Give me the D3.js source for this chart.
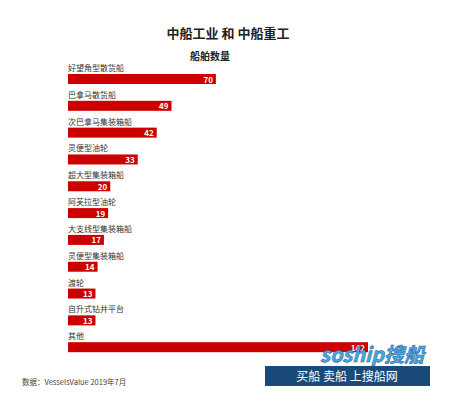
<!DOCTYPE html>
<html><head><meta charset="utf-8">
<script src="https://cdn.jsdelivr.net/npm/d3@7"></script>
<style>body{margin:0;background:#fff}text{font-family:"Noto Sans CJK SC","Noto Sans",sans-serif}</style>
</head><body><div id="chart"></div>
<script>
const categories = ['好望角型散货船','巴拿马散货船','次巴拿马集装箱船','灵便型油轮','超大型集装箱船','阿芙拉型油轮','大支线型集装箱船','灵便型集装箱船','渡轮','自升式钻井平台','其他']
const values = [70, 49, 42, 33, 20, 19, 17, 14, 13, 13, 142]

const width = 450, height = 400
const svg = d3.select('#chart').append('svg')
  .attr('width', width).attr('height', height)

const x = d3.scaleLinear().domain([0, 142]).range([68, 368])
const y = d3.scaleBand().domain(categories).range([62, 357]).paddingInner(0)

svg.append('text').attr('x', 228).attr('y', 38).attr('text-anchor', 'middle')
  .style('font-size', '13px').style('font-weight', 'bold').attr('fill', '#222')
  .text('中船工业 和 中船重工')
svg.append('text').attr('x', 210).attr('y', 60).attr('text-anchor', 'middle')
  .style('font-size', '10px').style('font-weight', 'bold').attr('fill', '#222')
  .text('船舶数量')

let row = svg.selectAll('g.row').data(categories).enter().append('g')
  .attr('transform', d => `translate(0,${y(d)})`)

row.append('text').attr('x', 68).attr('y', 9)
  .style('font-size', '8px').attr('fill', '#333').text(d => d)
row.append('rect').attr('x', 68).attr('y', 12)
  .attr('width', (d, i) => x(values[i]) - 68).attr('height', 10)
  .attr('fill', '#cc0000')
row.append('text').attr('x', (d, i) => x(values[i]) - 3).attr('y', 20.5)
  .attr('text-anchor', 'end').style('font-size', '8px').style('font-weight', 'bold')
  .attr('fill', '#fff').text((d, i) => values[i])

svg.append('text').attr('x', 22).attr('y', 385)
  .style('font-size', '7.5px').attr('fill', '#444').text('数据：VesselsValue 2019年7月')

// watermark
svg.append('text').attr('x', 320).attr('y', 362)
  .style('font-size', '20px').style('font-style', 'italic').style('font-weight', 'bold')
  .attr('fill', '#4aa8e0').attr('stroke', '#1a5a9a').attr('stroke-width', 0.5).text('soship搜船')
svg.append('rect').attr('x', 265).attr('y', 366).attr('width', 165).attr('height', 20).attr('fill', '#1a4a7a')
svg.append('text').attr('x', 347).attr('y', 381).attr('text-anchor', 'middle')
  .style('font-size', '12px').attr('fill', '#fff').text('买船  卖船  上搜船网')
</script></body></html>
